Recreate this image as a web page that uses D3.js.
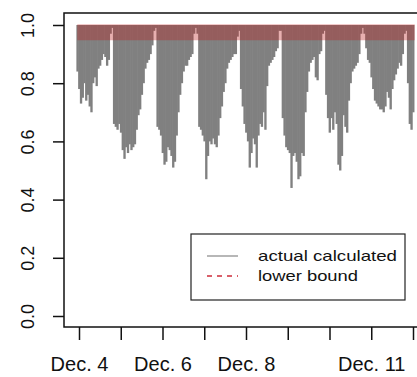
<!DOCTYPE html>
<html>
<head>
<meta charset="utf-8">
<script src="https://cdn.jsdelivr.net/npm/d3@7"></script>
<style>
  html, body { margin: 0; padding: 0; background: #fff; }
  svg { display: block; }
  text { font-family: "Liberation Sans", Arial, sans-serif; fill: #111; }
</style>
</head>
<body>
<svg id="chart" width="417" height="377"></svg>
<script>
// ---- data (hourly, starting Dec 3 23:00) ----
const seriesStart = new Date(2013, 11, 3, 23);
const actualCalculated = [
  0.84, 0.78, 0.73, 0.75, 0.80, 0.74, 0.76, 0.72, 0.70, 0.80, 0.82, 0.79, 0.85, 0.86, 0.88, 0.90, 0.89, 0.86, 0.88, 0.97, 0.99,
  0.66, 0.65, 0.64, 0.66, 0.63, 0.57, 0.54, 0.58, 0.56, 0.59, 0.57, 0.58, 0.59, 0.64, 0.69, 0.71, 0.76, 0.80, 0.85, 0.87, 0.88, 0.90, 0.93, 0.98, 0.99,
  0.65, 0.64, 0.62, 0.56, 0.52, 0.53, 0.58, 0.57, 0.55, 0.51, 0.53, 0.62, 0.70, 0.76, 0.80, 0.84, 0.86, 0.86, 0.88, 0.89, 0.90, 0.97, 0.99, 0.97,
  0.65, 0.64, 0.62, 0.60, 0.47, 0.55, 0.60, 0.59, 0.61, 0.59, 0.58, 0.62, 0.68, 0.72, 0.77, 0.80, 0.85, 0.87, 0.88, 0.89, 0.90, 0.90, 0.96, 0.98,
  0.78, 0.72, 0.66, 0.63, 0.60, 0.51, 0.56, 0.61, 0.59, 0.51, 0.62, 0.66, 0.65, 0.70, 0.64, 0.79, 0.86, 0.87, 0.88, 0.89, 0.91, 0.92, 0.98, 0.98,
  0.68, 0.62, 0.58, 0.57, 0.56, 0.44, 0.55, 0.56, 0.53, 0.47, 0.48, 0.56, 0.55, 0.70, 0.77, 0.84, 0.87, 0.88, 0.89, 0.82, 0.81, 0.90, 0.91, 0.97, 0.98,
  0.76, 0.68, 0.63, 0.68, 0.64, 0.70, 0.66, 0.52, 0.50, 0.55, 0.69, 0.65, 0.63, 0.74, 0.80, 0.84, 0.85, 0.86, 0.87, 0.90, 0.97, 0.99, 0.97,
  0.92, 0.88, 0.87, 0.82, 0.78, 0.74, 0.73, 0.72, 0.71, 0.71, 0.70, 0.72, 0.77, 0.75, 0.71, 0.78, 0.81, 0.83, 0.85, 0.87, 0.86, 0.90, 0.97, 0.98,
  0.80, 0.66, 0.64, 0.70
];
// lower bound, one value per day segment
const lowerBoundTimes = [new Date(2013, 11, 3, 23), new Date(2013, 11, 5), new Date(2013, 11, 6), new Date(2013, 11, 7),
  new Date(2013, 11, 8), new Date(2013, 11, 9), new Date(2013, 11, 10), new Date(2013, 11, 11), new Date(2013, 11, 12), new Date(2013, 11, 12, 1)];
const lowerBoundValues = [0.948, 0.948, 0.948, 0.948, 0.948, 0.948, 0.948, 0.948, 0.948, 0.948];

const xTickDates = [4, 5, 6, 7, 8, 9, 10, 11, 12].map(d => new Date(2013, 11, d));
const xTickLabels = ["Dec. 4", "", "Dec. 6", "", "Dec. 8", "", "", "Dec. 11", ""];
const yTicks = [0, 0.2, 0.4, 0.6, 0.8, 1.0];
const legendLabels = ["actual calculated", "lower bound"];

// ---- scales ----
const svg = d3.select("#chart");
const x = d3.scaleTime().domain([xTickDates[0], xTickDates[8]]).range([79, 413]);
const y = d3.scaleLinear().domain([0, 1]).range([316, 25]);

const HOUR = 3600 * 1000;
const pts = actualCalculated.map((v, i) => ({ t: new Date(seriesStart.getTime() + i * HOUR), v }));
const bw = x(new Date(seriesStart.getTime() + HOUR)) - x(seriesStart);

// ---- bars (from 1 down to value) ----
svg.append("g").selectAll("rect").data(pts).join("rect")
  .attr("x", d => x(d.t) - bw / 2)
  .attr("width", bw + 0.6)
  .attr("y", y(1))
  .attr("height", d => y(d.v) - y(1))
  .attr("fill", "#808080");

// ---- lower bound band ----
const lb = lowerBoundTimes.map((t, i) => ({ t, v: lowerBoundValues[i] }));
svg.append("path").datum(lb)
  .attr("d", d3.area().curve(d3.curveStepAfter).x(d => x(d.t)).y0(y(1)).y1(d => y(d.v)))
  .attr("fill", "rgb(190,30,30)")
  .attr("fill-opacity", 0.35);
svg.append("line")
  .attr("x1", x(lb[0].t)).attr("x2", x(lb[lb.length - 1].t))
  .attr("y1", y(1) - 0.5).attr("y2", y(1) - 0.5)
  .attr("stroke", "#f2caca").attr("stroke-width", 1);

// ---- plot box ----
svg.append("rect")
  .attr("x", 64).attr("y", 13).attr("width", 360).attr("height", 314)
  .attr("fill", "none").attr("stroke", "#111").attr("stroke-width", 1.5);

// ---- axes ----
const xAxis = d3.axisBottom(x).tickValues(xTickDates)
  .tickFormat((d, i) => xTickLabels[i]).tickSize(13).tickPadding(17);
const gx = svg.append("g").attr("transform", "translate(0,327)").call(xAxis);
gx.select(".domain").remove();
gx.selectAll(".tick line").attr("stroke", "#111").attr("stroke-width", 1.5);
gx.selectAll(".tick text").attr("font-size", 20).attr("font-family", "Liberation Sans, Arial, sans-serif").attr("fill", "#111");

const yAxis = d3.axisLeft(y).tickValues(yTicks).tickFormat(d3.format(".1f")).tickSize(11);
const gy = svg.append("g").attr("transform", "translate(64,0)").call(yAxis);
gy.select(".domain").remove();
gy.selectAll(".tick line").attr("stroke", "#111").attr("stroke-width", 1.5);
gy.selectAll(".tick text")
  .attr("font-size", 18).attr("font-family", "Liberation Sans, Arial, sans-serif").attr("fill", "#111")
  .attr("x", null).attr("dy", null)
  .attr("text-anchor", "middle").attr("dominant-baseline", "central")
  .attr("transform", "translate(-36,0) rotate(-90)");

// ---- legend ----
const lg = svg.append("g");
lg.append("rect").attr("x", 191).attr("y", 234).attr("width", 214).attr("height", 66)
  .attr("fill", "#fff").attr("stroke", "#222").attr("stroke-width", 1.2);
lg.append("line").attr("x1", 207).attr("x2", 238).attr("y1", 256).attr("y2", 256)
  .attr("stroke", "#888").attr("stroke-width", 1.2);
lg.append("line").attr("x1", 207).attr("x2", 238).attr("y1", 276).attr("y2", 276)
  .attr("stroke", "#d9606a").attr("stroke-width", 2).attr("stroke-dasharray", "5,5");
lg.selectAll("text.lab").data(legendLabels).join("text").attr("class", "lab")
  .attr("x", 258).attr("y", (d, i) => 256 + i * 20).attr("dy", "0.35em")
  .attr("font-size", 15)
  .attr("textLength", (d, i) => [139, 100][i])
  .attr("lengthAdjust", "spacingAndGlyphs")
  .text(d => d);
</script>
</body>
</html>
